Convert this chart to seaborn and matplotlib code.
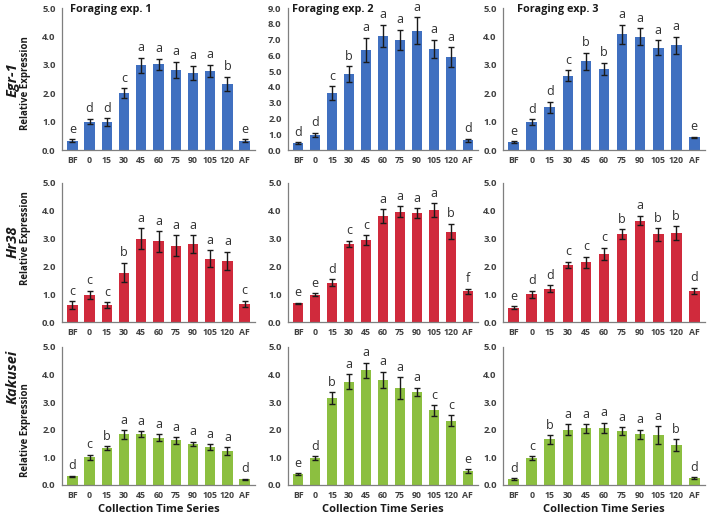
import numpy as np
import pandas as pd
import matplotlib
matplotlib.use("Agg")
import matplotlib.pyplot as plt
import seaborn as sns

categories = ["BF", "0", "15", "30", "45", "60", "75", "90", "105", "120", "AF"]
genes = ["Egr-1", "Hr38", "Kakusei"]
experiments = ["Foraging exp. 1", "Foraging exp. 2", "Foraging exp. 3"]

egr1_exp1 = [0.33, 1.00, 0.98, 2.00, 2.98, 3.02, 2.82, 2.72, 2.78, 2.32, 0.33]
egr1_exp1_err = [0.05, 0.10, 0.13, 0.18, 0.27, 0.20, 0.28, 0.25, 0.22, 0.25, 0.05]
egr1_exp1_sig = ["e", "d", "d", "c", "a", "a", "a", "a", "a", "b", "e"]

egr1_exp2 = [0.45, 0.95, 3.62, 4.82, 6.35, 7.22, 6.98, 7.55, 6.40, 5.88, 0.62]
egr1_exp2_err = [0.05, 0.15, 0.42, 0.48, 0.78, 0.72, 0.65, 0.85, 0.58, 0.62, 0.10]
egr1_exp2_sig = ["d", "d", "c", "b", "a", "a", "a", "a", "a", "a", "d"]

egr1_exp3 = [0.27, 0.98, 1.50, 2.62, 3.12, 2.85, 4.07, 3.98, 3.60, 3.68, 0.45]
egr1_exp3_err = [0.03, 0.10, 0.20, 0.18, 0.30, 0.22, 0.33, 0.30, 0.27, 0.30, 0.02]
egr1_exp3_sig = ["e", "d", "d", "c", "b", "b", "a", "a", "a", "a", "e"]

hr38_exp1 = [0.60, 0.98, 0.62, 1.78, 3.00, 2.90, 2.75, 2.80, 2.28, 2.20, 0.65]
hr38_exp1_err = [0.15, 0.15, 0.10, 0.35, 0.37, 0.37, 0.37, 0.33, 0.30, 0.32, 0.12]
hr38_exp1_sig = ["c", "c", "c", "b", "a", "a", "a", "a", "a", "a", "c"]

hr38_exp2 = [0.67, 0.98, 1.42, 2.80, 2.95, 3.80, 3.97, 3.92, 4.03, 3.25, 1.10]
hr38_exp2_err = [0.02, 0.06, 0.12, 0.12, 0.18, 0.25, 0.20, 0.18, 0.25, 0.28, 0.10]
hr38_exp2_sig = ["e", "e", "d", "c", "c", "a", "a", "a", "a", "b", "f"]

hr38_exp3 = [0.52, 1.00, 1.20, 2.05, 2.15, 2.45, 3.17, 3.65, 3.15, 3.20, 1.12]
hr38_exp3_err = [0.05, 0.12, 0.12, 0.12, 0.20, 0.22, 0.17, 0.17, 0.22, 0.25, 0.12]
hr38_exp3_sig = ["e", "d", "d", "c", "c", "c", "b", "a", "b", "b", "d"]

kak_exp1 = [0.32, 1.00, 1.33, 1.83, 1.85, 1.72, 1.62, 1.50, 1.37, 1.22, 0.20]
kak_exp1_err = [0.02, 0.10, 0.07, 0.15, 0.10, 0.12, 0.12, 0.07, 0.10, 0.15, 0.02]
kak_exp1_sig = ["d", "c", "b", "a", "a", "a", "a", "a", "a", "a", "d"]

kak_exp2 = [0.40, 0.98, 3.15, 3.75, 4.15, 3.80, 3.50, 3.37, 2.70, 2.32, 0.50]
kak_exp2_err = [0.03, 0.07, 0.22, 0.27, 0.28, 0.30, 0.40, 0.15, 0.20, 0.20, 0.07]
kak_exp2_sig = ["e", "d", "b", "a", "a", "a", "a", "a", "c", "c", "e"]

kak_exp3 = [0.22, 0.97, 1.65, 2.00, 2.05, 2.08, 1.95, 1.83, 1.80, 1.45, 0.25]
kak_exp3_err = [0.03, 0.07, 0.15, 0.20, 0.15, 0.18, 0.15, 0.18, 0.33, 0.20, 0.03]
kak_exp3_sig = ["d", "c", "b", "a", "a", "a", "a", "a", "a", "b", "d"]

panels = [
    [(egr1_exp1, egr1_exp1_err, egr1_exp1_sig), (egr1_exp2, egr1_exp2_err, egr1_exp2_sig), (egr1_exp3, egr1_exp3_err, egr1_exp3_sig)],
    [(hr38_exp1, hr38_exp1_err, hr38_exp1_sig), (hr38_exp2, hr38_exp2_err, hr38_exp2_sig), (hr38_exp3, hr38_exp3_err, hr38_exp3_sig)],
    [(kak_exp1, kak_exp1_err, kak_exp1_sig), (kak_exp2, kak_exp2_err, kak_exp2_sig), (kak_exp3, kak_exp3_err, kak_exp3_sig)],
]
row_colors = ["#4070c0", "#d02a3c", "#8cbf40"]

sns.set_theme(style="white")
plt.rcParams['font.family'] = ['Open Sans', 'DejaVu Sans']

W, H = 708, 522
fig = plt.figure(figsize=(W / 100, H / 100), dpi=100)

col_x = [(62, 255), (288, 478), (503, 705)]
row_y = [(8, 150), (183, 322), (347, 485)]
title_off = [8, 4, 14]
gene_y = [80, 242, 377]
relexp_y = [83, 238, 430]
grey = "#7f7f7f"
text_c = "#404040"

for r in range(3):
    for c in range(3):
        vals, errs, sigs = panels[r][c]
        x0, x1 = col_x[c]
        y0, y1 = row_y[r]
        ax = fig.add_axes([x0 / W, 1 - y1 / H, (x1 - x0) / W, (y1 - y0) / H])
        df = pd.DataFrame({"time": categories, "value": vals})
        sns.barplot(data=df, x="time", y="value", order=categories, color=row_colors[r],
                    saturation=1, width=0.6, errorbar=None, ax=ax, edgecolor="none")
        pos = np.arange(len(categories))
        ax.errorbar(pos, vals, yerr=errs, fmt="none", ecolor="#1a1a1a", elinewidth=1.0,
                    capsize=2.5, capthick=1.0)
        ymax = 9.0 if (r == 0 and c == 1) else 5.0
        step = 1.0
        ax.set_ylim(0, ymax)
        ax.set_xlim(-0.6, len(categories) - 0.4)
        ax.set_yticks(np.arange(0, ymax + 0.01, step))
        ax.set_yticklabels([f"{v:.1f}" for v in np.arange(0, ymax + 0.01, step)],
                           fontsize=6.8, fontweight="bold", color=text_c)
        ax.set_xticks(pos)
        ax.set_xticklabels(categories, fontsize=6.3, fontweight="bold", color=text_c)
        ax.tick_params(axis="both", length=2.5, width=0.8, color=grey, pad=2)
        ax.tick_params(axis="x", length=0, pad=4)
        for s in ["top", "right"]:
            ax.spines[s].set_visible(False)
        for s in ["left", "bottom"]:
            ax.spines[s].set_color(grey)
            ax.spines[s].set_linewidth(0.9)
        ax.set_xlabel("")
        ax.set_ylabel("")
        off = ymax * 0.025
        for i, (v, e, s) in enumerate(zip(vals, errs, sigs)):
            ax.text(i, v + e + off, s, ha="center", va="bottom", fontsize=9, color="#303030")
        if r == 0:
            fig.text((x0 + title_off[c]) / W, 1 - 4 / H, experiments[c], ha="left", va="top",
                     fontsize=7.8, fontweight="bold", color="#1a1a1a")
        if r == 2:
            fig.text((x0 + x1) / 2 / W, 1 - 510 / H, "Collection Time Series", ha="center",
                     va="center", fontsize=8, fontweight="bold", color="#1a1a1a")
        if c == 0:
            fig.text(26 / W, 1 - relexp_y[r] / H, "Relative Expression", rotation=90,
                     ha="center", va="center", fontsize=7, fontweight="bold", color="#1a1a1a")
            fig.text(13 / W, 1 - gene_y[r] / H, genes[r], rotation=90, ha="center", va="center",
                     fontsize=10.5, fontweight="bold", fontstyle="italic", color="#1a1a1a")

fig.savefig("out.png", dpi=100)
